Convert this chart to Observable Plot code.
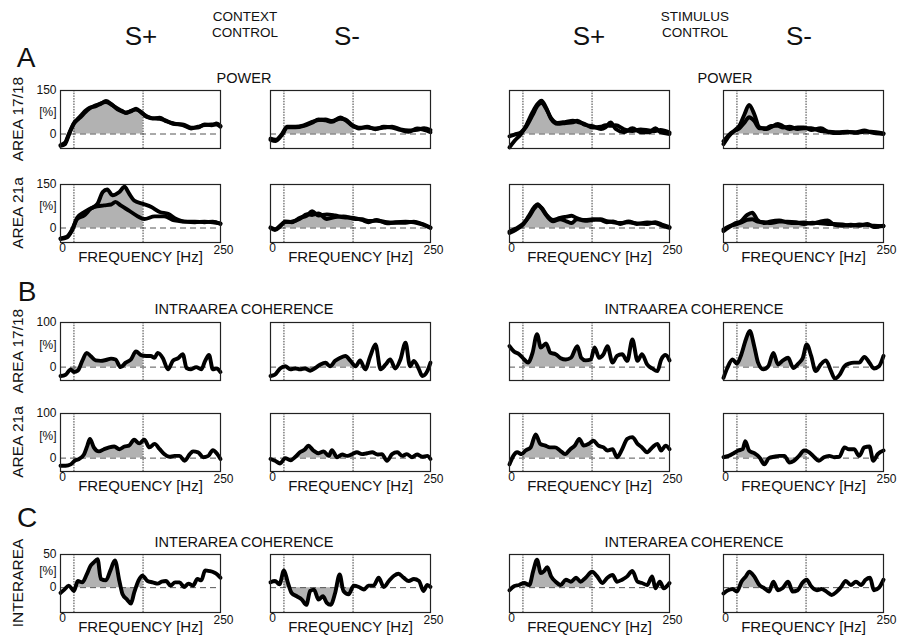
<!DOCTYPE html>
<html>
<head>
<meta charset="utf-8">
<script src="https://cdn.jsdelivr.net/npm/d3@7"></script>
<script src="https://cdn.jsdelivr.net/npm/@observablehq/plot@0.6"></script>
<style>
  html, body { margin: 0; padding: 0; background: #fff; }
  #fig { position: relative; width: 907px; height: 640px; overflow: hidden; background: #fff;
         font-family: "Liberation Sans", Arial, Helvetica, sans-serif; color: #111; }
  .lbl { position: absolute; white-space: nowrap; transform: translate(-50%, -50%); line-height: 1; }
  .rot { position: absolute; white-space: nowrap; transform: translate(-50%, -50%) rotate(-90deg); line-height: 1; }
  .pnl { position: absolute; }
</style>
</head>
<body>
<div id="fig"></div>
<script>
// ---------------- data (frequency in Hz, value in %) ----------------
const columns = ["CONTEXT S+", "CONTEXT S-", "STIMULUS S+", "STIMULUS S-"];
const rowLabels = ["AREA 17/18", "AREA 21a", "AREA 17/18", "AREA 21a", "INTERAREA"];
const xTickLabels = [0, 250];
const powerTicks = [150, 0];
const intraTicks = [100, 0];
const interTicks = [50, 0];
const bandEdges = [21, 129];

// POWER, AREA 17/18
const p1718_cSp_a = [[0,-41],[7,-35],[13,-3],[21,36],[26,48],[33,62],[39,76],[45,87],[55,99],[63,104],[71,114],[79,104],[89,85],[96,78],[102,74],[110,78],[118,87],[126,74],[134,62],[144,53],[155,56],[165,44],[178,36],[191,31],[204,19],[215,25],[225,31],[236,33],[244,33],[250,25]];
const p1718_cSp_b = [[0,-38],[7,-30],[13,0],[21,38],[26,50],[33,66],[39,80],[45,90],[55,96],[63,106],[71,110],[79,102],[89,88],[96,80],[102,72],[110,80],[118,84],[126,76],[134,60],[144,55],[155,52],[165,46],[178,34],[191,33],[204,22],[215,22],[225,33],[236,30],[244,36],[250,28]];
const p1718_cSm_a = [[0,-20],[8,-24],[18,-3],[26,23],[39,23],[52,28],[65,39],[75,50],[86,47],[96,42],[109,57],[117,48],[128,28],[138,19],[151,25],[164,16],[177,25],[190,22],[203,14],[216,8],[229,19],[240,14],[250,6]];
const p1718_cSm_b = [[0,-16],[8,-20],[18,0],[26,25],[39,25],[52,30],[65,42],[75,48],[86,50],[96,45],[109,52],[117,50],[128,30],[138,22],[151,22],[164,19],[177,22],[190,25],[203,16],[216,12],[229,14],[240,20],[250,14]];
const p1718_sSp_a = [[0,-46],[8,-23],[18,0],[26,29],[36,75],[44,104],[50,115],[57,92],[65,52],[75,35],[88,38],[99,40],[106,46],[117,32],[130,27],[143,17],[150,23],[158,40],[166,17],[179,6],[192,20],[205,6],[218,6],[228,20],[236,6],[250,0]];
const p1718_sSp_b = [[0,-8],[8,-2],[18,6],[26,25],[36,65],[44,98],[50,108],[57,88],[65,55],[75,38],[88,42],[99,46],[106,42],[117,35],[130,22],[143,25],[150,30],[158,28],[166,30],[179,16],[192,10],[205,16],[218,12],[228,10],[236,14],[250,5]];
const p1718_sSm_a = [[0,-35],[9,-6],[17,12],[25,29],[33,69],[40,100],[48,69],[56,23],[67,17],[74,23],[85,35],[93,27],[103,17],[116,23],[126,23],[137,14],[152,20],[165,6],[178,3],[194,6],[207,6],[220,12],[230,6],[250,0]];
const p1718_sSm_b = [[0,-25],[9,-2],[17,10],[25,20],[33,40],[40,58],[48,45],[56,20],[67,20],[74,28],[85,28],[93,22],[103,25],[116,17],[126,20],[137,20],[152,10],[165,8],[178,6],[194,8],[207,4],[220,8],[230,8],[250,2]];

// POWER, AREA 21a
const p21a_cSp_a = [[0,-38],[10,-33],[18,-9],[26,31],[37,43],[47,66],[58,84],[66,124],[73,133],[81,113],[92,124],[100,142],[107,119],[115,95],[128,84],[142,72],[155,55],[168,49],[181,31],[194,22],[210,22],[225,20],[238,22],[250,14]];
const p21a_cSp_b = [[0,-36],[10,-30],[18,-6],[26,35],[37,55],[52,72],[68,78],[79,81],[86,90],[94,78],[107,60],[121,40],[131,31],[147,40],[162,40],[178,26],[194,22],[210,20],[225,22],[238,20],[250,16]];
const p21a_cSm_a = [[0,0],[7,-7],[15,5],[23,23],[33,20],[46,35],[57,43],[65,58],[75,43],[88,47],[101,43],[114,37],[130,35],[143,28],[153,20],[166,28],[182,16],[195,20],[211,22],[224,20],[237,12],[250,0]];
const p21a_cSm_b = [[0,2],[7,-4],[15,8],[23,20],[33,22],[46,32],[57,48],[65,45],[75,50],[88,31],[101,38],[114,40],[130,32],[143,30],[153,24],[166,25],[182,20],[195,18],[211,18],[224,22],[237,14],[250,2]];
const p21a_sSp_a = [[0,-17],[10,-6],[21,11],[31,45],[39,73],[44,82],[50,68],[58,42],[68,23],[79,30],[89,23],[97,17],[105,30],[118,28],[131,30],[142,28],[152,20],[162,23],[173,14],[186,23],[199,14],[215,19],[228,17],[238,8],[250,0]];
const p21a_sSp_b = [[0,-12],[10,-2],[21,14],[31,40],[39,68],[44,78],[50,70],[58,45],[68,28],[79,35],[89,39],[97,42],[105,34],[118,25],[131,28],[142,30],[152,24],[162,20],[173,17],[186,20],[199,16],[215,14],[228,20],[238,12],[250,3]];
const p21a_sSm_a = [[0,-11],[9,3],[19,17],[27,23],[37,45],[45,53],[53,28],[64,17],[74,23],[87,26],[100,19],[113,17],[126,19],[139,15],[152,23],[163,26],[173,11],[186,8],[199,11],[212,8],[225,14],[235,3],[250,8]];
const p21a_sSm_b = [[0,-5],[9,6],[19,12],[27,18],[37,28],[45,30],[53,22],[64,20],[74,17],[87,22],[100,22],[113,20],[126,14],[139,18],[152,16],[163,14],[173,14],[186,12],[199,8],[212,12],[225,10],[235,8],[250,6]];

// INTRAAREA COHERENCE, AREA 17/18
const i1718_cSp = [[0,-20],[8,-17],[16,-5],[21,-11],[27,-8],[34,14],[41,32],[47,25],[55,15],[63,14],[71,16],[79,19],[86,17],[94,0],[102,10],[110,17],[118,35],[126,27],[134,25],[141,25],[147,21],[152,32],[160,20],[168,-5],[176,15],[184,20],[191,29],[197,-2],[204,-5],[212,0],[220,-5],[226,14],[232,27],[238,-5],[244,-3],[250,-11]];
const i1718_cSm = [[0,-20],[7,-17],[15,-3],[23,2],[31,-5],[39,-3],[46,-5],[54,-3],[62,-8],[70,-2],[78,6],[86,10],[93,2],[101,14],[109,21],[117,25],[125,14],[133,2],[140,15],[148,-5],[156,25],[164,51],[172,-5],[180,6],[187,17],[195,-3],[203,17],[211,55],[218,2],[224,14],[232,-5],[237,-20],[245,-9],[250,10]];
const i1718_sSp = [[0,47],[7,35],[15,29],[23,17],[29,10],[36,32],[43,74],[49,44],[57,53],[64,32],[72,29],[80,20],[88,17],[96,21],[106,47],[112,21],[119,15],[127,17],[133,44],[140,21],[147,29],[153,47],[161,10],[168,25],[176,29],[184,14],[192,62],[200,14],[207,29],[215,6],[223,-3],[231,-9],[237,17],[244,27],[250,15]];
const i1718_sSm = [[0,-24],[6,-2],[14,17],[21,8],[27,25],[35,62],[41,81],[48,47],[54,10],[62,-5],[70,2],[78,32],[85,6],[93,15],[101,21],[109,-2],[117,8],[124,21],[130,51],[137,25],[144,-9],[152,6],[160,15],[168,-9],[174,-26],[181,-18],[189,2],[196,8],[204,10],[212,10],[220,23],[228,10],[235,-3],[243,2],[250,25]];

// INTRAAREA COHERENCE, AREA 21a
const i21a_cSp = [[0,-17],[8,-17],[16,-14],[22,-6],[29,-2],[37,9],[42,28],[46,43],[52,24],[60,15],[68,20],[76,24],[84,26],[92,20],[100,26],[107,28],[115,41],[123,33],[131,41],[139,24],[147,32],[155,20],[162,9],[170,3],[178,5],[186,5],[194,-6],[202,9],[207,15],[215,13],[223,2],[231,5],[238,18],[245,9],[250,-2]];
const i21a_cSm = [[0,-2],[7,-6],[15,-12],[23,0],[31,-5],[39,3],[46,13],[54,20],[59,28],[67,17],[75,11],[83,15],[91,5],[96,18],[104,2],[112,8],[120,5],[128,9],[135,13],[143,9],[151,11],[159,13],[167,8],[174,9],[182,-6],[190,9],[198,13],[206,5],[213,9],[221,2],[229,8],[237,3],[245,5],[250,-2]];
const i21a_sSp = [[0,-14],[6,5],[12,13],[19,9],[25,17],[33,24],[41,53],[48,32],[56,28],[63,24],[71,24],[79,17],[87,9],[95,20],[102,28],[109,43],[116,28],[124,32],[131,39],[139,28],[147,24],[153,17],[161,20],[168,2],[176,20],[184,43],[192,47],[200,32],[207,24],[215,13],[223,24],[231,32],[237,17],[244,28],[250,20]];
const i21a_sSm = [[0,2],[8,5],[16,11],[23,17],[30,20],[34,38],[40,17],[48,11],[56,2],[64,-14],[71,0],[79,3],[87,5],[95,5],[103,-10],[110,-6],[118,5],[126,17],[134,13],[142,2],[149,-6],[157,2],[165,5],[173,2],[181,3],[189,24],[196,20],[204,20],[212,5],[220,24],[228,26],[234,-6],[241,9],[250,17]];

// INTERAREA COHERENCE
const inter_cSp = [[0,-8],[6,-3],[13,3],[21,-5],[27,10],[34,8],[41,20],[47,33],[52,38],[58,43],[63,13],[71,11],[78,26],[85,41],[92,10],[97,-10],[104,-18],[110,-24],[115,-8],[122,11],[128,18],[136,10],[144,8],[152,6],[158,9],[165,10],[172,3],[179,8],[186,8],[193,1],[200,6],[207,3],[214,13],[220,11],[226,26],[233,25],[240,23],[245,20],[250,15]];
const inter_cSm = [[0,8],[7,10],[14,5],[21,26],[27,8],[33,-8],[41,-13],[49,-18],[56,-26],[62,-5],[68,-3],[75,-18],[82,-13],[88,-23],[94,-26],[101,-8],[108,20],[114,-5],[122,-10],[130,3],[138,1],[146,-3],[153,3],[161,3],[169,15],[177,1],[185,10],[193,18],[200,21],[208,15],[216,10],[224,13],[232,10],[239,-5],[245,4],[250,1]];
const inter_sSp = [[0,-4],[7,2],[15,4],[23,7],[31,4],[37,25],[43,42],[49,22],[54,25],[59,31],[65,17],[72,9],[80,4],[88,12],[96,9],[104,15],[111,9],[119,15],[129,24],[137,17],[145,7],[153,15],[161,19],[168,9],[176,12],[184,17],[192,25],[200,9],[207,7],[215,4],[223,17],[228,-1],[235,9],[241,-1],[250,7]];
const inter_sSm = [[0,-9],[7,-4],[14,-2],[21,-6],[28,9],[35,17],[40,24],[48,17],[56,4],[64,-1],[71,-6],[78,9],[85,-4],[92,-1],[101,9],[108,-6],[116,-4],[123,7],[130,12],[137,2],[146,-4],[153,-2],[161,-6],[169,-11],[177,-6],[183,0],[191,10],[199,4],[207,9],[215,4],[222,12],[229,15],[235,-4],[243,0],[250,12]];

// ---------------- layout ----------------
const FONT = '"Liberation Sans", Arial, Helvetica, sans-serif';
const colLeft = [60, 270, 509, 723];
const rowTop = [90, 184, 322, 413, 554];
const PW = 160, PH = 58;
const ML = 44, MR = 30, MT = 6, MB = 30;

const rows = [
  {domain: [-50, 150], ticks: powerTicks, xlab: false,
   series: [[p1718_cSp_a, p1718_cSp_b], [p1718_cSm_a, p1718_cSm_b], [p1718_sSp_a, p1718_sSp_b], [p1718_sSm_a, p1718_sSm_b]]},
  {domain: [-50, 150], ticks: powerTicks, xlab: true,
   series: [[p21a_cSp_a, p21a_cSp_b], [p21a_cSm_a, p21a_cSm_b], [p21a_sSp_a, p21a_sSp_b], [p21a_sSm_a, p21a_sSm_b]]},
  {domain: [-30, 100], ticks: intraTicks, xlab: false,
   series: [[i1718_cSp], [i1718_cSm], [i1718_sSp], [i1718_sSm]]},
  {domain: [-30, 100], ticks: intraTicks, xlab: true,
   series: [[i21a_cSp], [i21a_cSm], [i21a_sSp], [i21a_sSm]]},
  {domain: [-37.5, 50], ticks: interTicks, xlab: true,
   series: [[inter_cSp], [inter_cSm], [inter_sSp], [inter_sSm]]}
];
const CURVE = "monotone-x";

function bandFill(s, lo, hi) {
  const interp = (f) => {
    for (let i = 1; i < s.length; i++) {
      if (s[i][0] >= f) {
        const [f0, v0] = s[i - 1], [f1, v1] = s[i];
        return v0 + (v1 - v0) * (f - f0) / (f1 - f0);
      }
    }
    return s[s.length - 1][1];
  };
  const out = [[lo, interp(lo)]];
  for (const p of s) if (p[0] > lo && p[0] < hi) out.push(p);
  out.push([hi, interp(hi)]);
  return out;
}

const fig = document.getElementById("fig");

rows.forEach((row, r) => {
  row.series.forEach((ser, c) => {
    const marks = [
      Plot.areaY(bandFill(ser[0], bandEdges[0], bandEdges[1]), {x: d => d[0], y1: 0, y2: d => d[1], fill: "#b2b2b2", curve: CURVE}),
      Plot.ruleY([0], {stroke: "#555", strokeWidth: 1, strokeDasharray: "6,4"}),
      Plot.ruleX(bandEdges, {stroke: "#222", strokeWidth: 0.9, strokeDasharray: "1.5,1.2"}),
      ...ser.map(s => Plot.line(s, {x: d => d[0], y: d => d[1], stroke: "#000", strokeWidth: 3.9, curve: CURVE, strokeLinejoin: "round", strokeLinecap: "round"})),
      Plot.frame({stroke: "#222", strokeWidth: 1.2})
    ];
    if (c === 0) {
      marks.push(Plot.text(row.ticks, {y: d => d, text: d => String(d), frameAnchor: "left", dx: -4, textAnchor: "end", fontSize: 12, fill: "#111"}));
      marks.push(Plot.text(["[%]"], {y: row.ticks[0] / 2, frameAnchor: "left", dx: -4, textAnchor: "end", fontSize: 12, fill: "#111"}));
    }
    if (row.xlab) {
      marks.push(Plot.text([xTickLabels[0]], {x: d => d, text: d => String(d), frameAnchor: "bottom", dx: 2, dy: 9, fontSize: 12, fill: "#111"}));
      marks.push(Plot.text([xTickLabels[1]], {x: d => d, text: d => String(d), frameAnchor: "bottom", dx: 3, dy: 11, fontSize: 12, fill: "#111"}));
      marks.push(Plot.text(["FREQUENCY [Hz]"], {frameAnchor: "bottom", dy: 19, fontSize: 15, fill: "#111"}));
    }
    const svg = Plot.plot({
      width: PW + ML + MR, height: PH + MT + MB,
      marginLeft: ML, marginRight: MR, marginTop: MT, marginBottom: MB,
      x: {domain: [0, 250], axis: null},
      y: {domain: row.domain, axis: null},
      style: {background: "transparent", fontFamily: FONT, overflow: "visible"},
      marks
    });
    svg.classList.add("pnl");
    svg.style.left = (colLeft[c] - ML) + "px";
    svg.style.top = (rowTop[r] - MT) + "px";
    svg.setAttribute("aria-label", columns[c] + " " + rowLabels[r]);
    fig.appendChild(svg);
  });
});

function label(text, x, y, size, cls = "lbl") {
  const d = document.createElement("div");
  d.className = cls;
  d.style.left = x + "px";
  d.style.top = y + "px";
  d.style.fontSize = size + "px";
  d.innerHTML = text;
  fig.appendChild(d);
}

// headers
label("S+", 141, 36, 26);
label("CONTEXT", 245, 17, 13.5);
label("CONTROL", 245, 33, 13.5);
label("S-", 347, 36, 26);
label("S+", 589, 36, 26);
label("STIMULUS", 695, 17, 13.5);
label("CONTROL", 695, 33, 13.5);
label("S-", 799, 36, 26);

// section letters
label("A", 26, 58, 28);
label("B", 27, 292, 28);
label("C", 27, 518, 28);

// section titles
label("POWER", 244, 78, 14.5);
label("POWER", 725, 78, 14.5);
label("INTRAAREA COHERENCE", 244, 309, 14.5);
label("INTRAAREA COHERENCE", 694, 309, 14.5);
label("INTERAREA COHERENCE", 244, 542, 14.5);
label("INTERAREA COHERENCE", 694, 542, 14.5);

// row labels (rotated)
rowLabels.forEach((t, r) => label(t, 18, rowTop[r] + PH / 2, 15.5, "rot"));
</script>
</body>
</html>
